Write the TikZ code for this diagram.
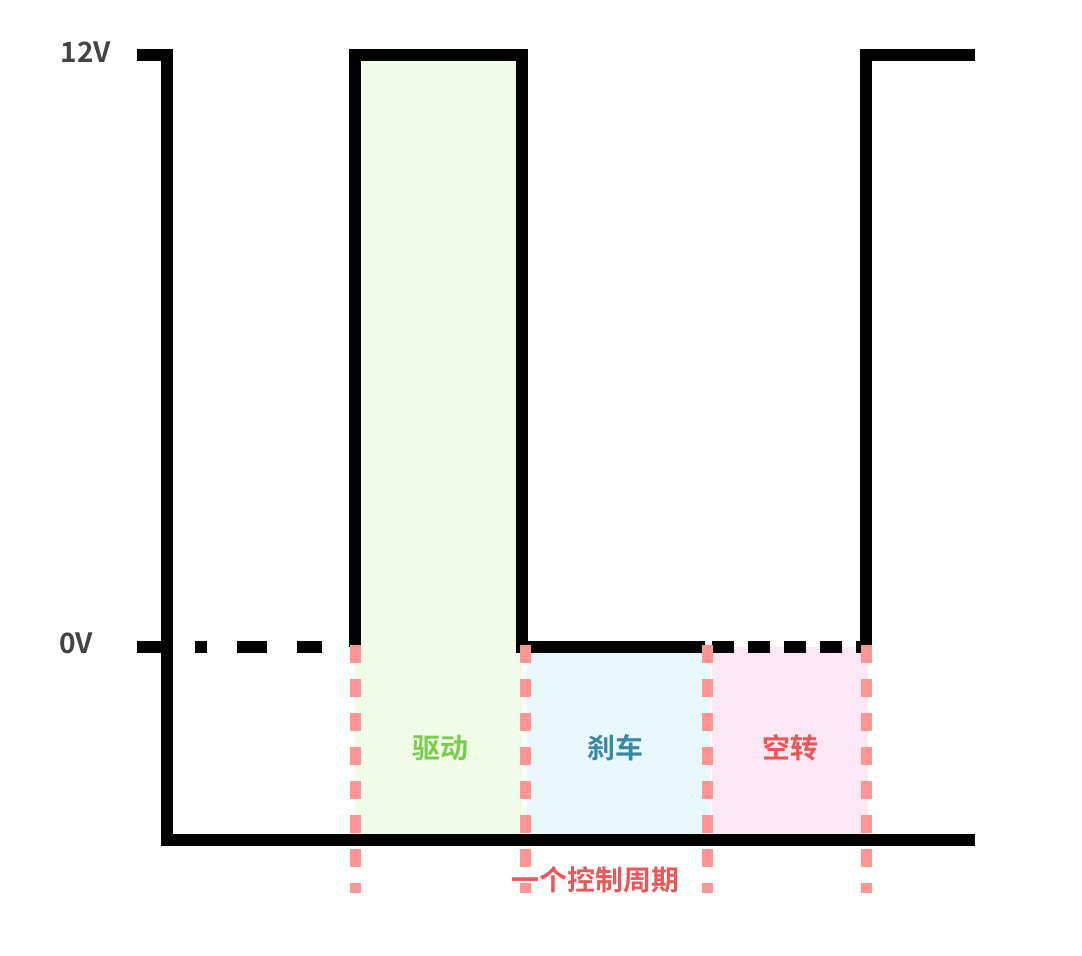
\documentclass[tikz,border=0pt]{standalone}
\usepackage{fontspec}
\setmainfont{Noto Sans CJK SC}[BoldFont={* Bold}]
\newfontfamily\cjk{Noto Sans CJK SC Bold}
\definecolor{gfill}{HTML}{F0FCE8}
\definecolor{bfill}{HTML}{E8F7FC}
\definecolor{pfill}{HTML}{FCE8F4}
\definecolor{pdash}{HTML}{FF9494}
\definecolor{gtxt}{HTML}{7ACC4A}
\definecolor{btxt}{HTML}{3A88A8}
\definecolor{rtxt}{HTML}{E85858}
\definecolor{axtxt}{HTML}{444444}
\begin{document}
\begin{tikzpicture}[x=1pt,y=-1pt,
  wave/.style={line width=12pt,black},
  pinkmark/.style={line width=11pt,pdash,dash pattern=on 18pt off 16pt},
  lbl/.style={font=\cjk\fontsize{28}{32}\selectfont},
  axl/.style={font=\cjk\fontsize{28}{32}\selectfont,text=axtxt}]
\useasboundingbox (0,0) rectangle (1082,956);
\fill[gfill] (355,55) rectangle (522,835);
\fill[bfill] (527,647) rectangle (710,835);
\fill[pfill] (712,647) rectangle (868,835);
% axis
\draw[wave] (137,55) -- (167,55) -- (167,840) -- (975,840);
\draw[wave] (137,647) -- (167,647);
% waveform
\draw[wave] (355,647) -- (355,55) -- (522,55) -- (522,647) -- (705,647);
\draw[wave,dash pattern=on 12pt off 30pt on 30pt off 30pt on 25pt off 100pt] (195,647) -- (355,647);
\draw[wave,dash pattern=on 22pt off 14pt on 22pt off 14pt] (712,647) -- (866,647);
\draw[wave] (866,647) -- (866,55) -- (975,55);
% pink markers
\foreach \x in {355,525,707,866}
  \draw[pinkmark] (\x,645) -- (\x,893);
\node[lbl,text=gtxt] (d) at (440,748) {驱动};
\node[lbl,text=btxt] (b) at (615,748) {刹车};
\node[lbl,text=rtxt] (k) at (790,748) {空转};
\node[lbl,text=rtxt] (p) at (595,880) {一个控制周期};
\node[axl] (v12) at (86,52) {12V};
\node[axl] (v0) at (76,643) {0V};
\end{tikzpicture}
\end{document}
